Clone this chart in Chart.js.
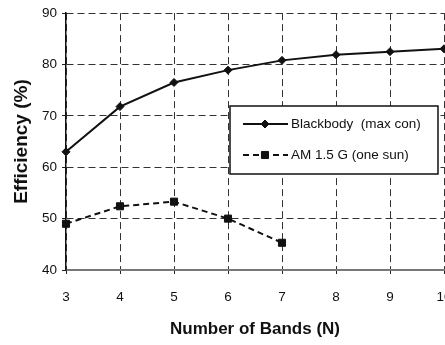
<!DOCTYPE html>
<html>
<head>
<meta charset="utf-8">
<script src="https://cdn.jsdelivr.net/npm/chart.js@4/dist/chart.umd.min.js"></script>
<style>
  html, body { margin: 0; padding: 0; background: #fff; overflow: hidden; }
  #wrap { position: absolute; left: 0; top: 0; width: 480px; height: 345px; }
</style>
</head>
<body>
<div id="wrap"><canvas id="c"></canvas></div>
<script>
// ---- data ----
const bands = [3, 4, 5, 6, 7, 8, 9, 10];
const blackbody = [63.0, 71.8, 76.5, 78.9, 80.8, 81.9, 82.5, 83.05];
const am15g = [49.0, 52.4, 53.3, 50.0, 45.3];
const seriesLabels = ['Blackbody  (max con)', 'AM 1.5 G (one sun)'];
const xTitle = 'Number of Bands (N)';
const yTitle = 'Efficiency (%)';
const yMin = 40, yMax = 90, yStep = 10;
const xMin = 3, xMax = 10;

const toXY = (xs, ys) => ys.map((v, i) => ({ x: xs[i], y: v }));

const FONT = '"Liberation Sans", Arial, sans-serif';

const legendBox = {
  id: 'legendBox',
  afterDatasetsDraw(chart) {
    const ctx = chart.ctx;
    const x0 = 230, y0 = 106, w = 208, h = 68;
    ctx.save();
    ctx.fillStyle = '#fff';
    ctx.fillRect(x0, y0, w, h);
    ctx.lineWidth = 1.5;
    ctx.strokeStyle = '#111';
    ctx.strokeRect(x0, y0, w, h);
    const rows = [y0 + 18, y0 + 49];
    chart.data.datasets.forEach((ds, i) => {
      const y = rows[i];
      ctx.lineWidth = 2;
      ctx.strokeStyle = '#111';
      ctx.setLineDash(ds.borderDash || []);
      ctx.beginPath();
      ctx.moveTo(243, y);
      ctx.lineTo(288, y);
      ctx.stroke();
      ctx.setLineDash([]);
      ctx.fillStyle = '#111';
      ctx.strokeStyle = '#111';
      ctx.lineWidth = 1;
      Chart.helpers.drawPoint(ctx, {
        pointStyle: ds.pointStyle, radius: ds.pointRadius, borderWidth: 1, rotation: 0
      }, 265, y);
      ctx.fillStyle = '#111';
      ctx.font = '13.5px ' + FONT;
      ctx.textBaseline = 'middle';
      ctx.textAlign = 'left';
      ctx.fillText(ds.label, 291, y);
    });
    ctx.restore();
  }
};

new Chart(document.getElementById('c'), {
  type: 'line',
  data: {
    datasets: [
      {
        label: seriesLabels[0],
        data: toXY(bands, blackbody),
        borderColor: '#111',
        backgroundColor: '#111',
        borderWidth: 2,
        pointStyle: 'rectRot',
        pointRadius: 4,
        pointBorderWidth: 1,
        tension: 0,
        fill: false,
        clip: false
      },
      {
        label: seriesLabels[1],
        data: toXY(bands, am15g),
        borderColor: '#111',
        backgroundColor: '#111',
        borderWidth: 2,
        borderDash: [6, 4],
        pointStyle: 'rect',
        pointRadius: 5,
        pointBorderWidth: 1,
        tension: 0,
        fill: false,
        clip: false
      }
    ]
  },
  options: {
    responsive: true,
    maintainAspectRatio: false,
    animation: false,
    devicePixelRatio: 1,
    layout: { padding: { left: 0, right: 36, top: 11, bottom: 0 } },
    plugins: {
      legend: { display: false },
      tooltip: { enabled: false }
    },
    scales: {
      x: {
        type: 'linear',
        min: xMin, max: xMax,
        afterFit(s) { s.height = 75; },
        ticks: {
          stepSize: 1,
          padding: 15,
          color: '#111',
          font: { family: FONT, size: 13.5 }
        },
        grid: {
          color: '#333',
          lineWidth: 1,
          drawTicks: true,
          tickLength: 4,
          tickColor: '#222',
          tickBorderDash: []
        },
        border: { display: true, color: '#777', width: 2, dash: [7, 4] },
        title: {
          display: true,
          text: xTitle,
          color: '#111',
          font: { family: FONT, size: 17, weight: 'bold' },
          padding: { top: 0, bottom: 5 }
        }
      },
      y: {
        type: 'linear',
        min: yMin, max: yMax,
        afterFit(s) { s.width = 66; },
        ticks: {
          stepSize: yStep,
          padding: 5,
          color: '#111',
          font: { family: FONT, size: 13.5 }
        },
        grid: {
          color: '#333',
          lineWidth: 1,
          drawTicks: true,
          tickLength: 4,
          tickColor: '#222',
          tickBorderDash: []
        },
        border: { display: true, color: '#111', width: 1.5, dash: [7, 4] },
        title: {
          display: true,
          text: yTitle,
          color: '#111',
          font: { family: FONT, size: 19, weight: 'bold' },
          padding: { top: 10, bottom: 0 }
        }
      }
    }
  },
  plugins: [legendBox]
});
</script>
</body>
</html>
